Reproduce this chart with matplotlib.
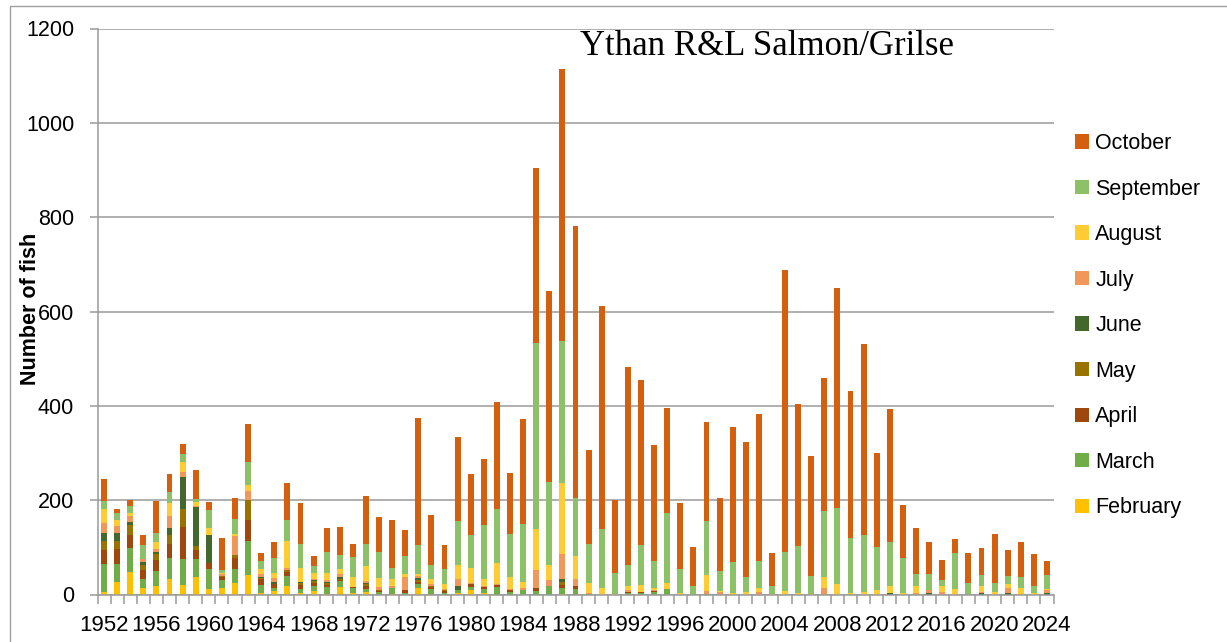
import numpy as np
import matplotlib.pyplot as plt
from matplotlib.patches import Rectangle, Patch

# Ythan R&L salmon/grilse catch by month, 1952-2024
years = list(range(1952, 2025))
months = ["February", "March", "April", "May", "June", "July", "August", "September", "October"]
colors = ["#FFC000", "#70AD47", "#9E480E", "#997300", "#43682B",
          "#F1975A", "#FFCD33", "#8CC168", "#D4600F"]

february = [6, 26, 47, 13, 17, 33, 21, 37, 11, 13, 24, 42, 4, 7, 18, 4, 8, 2, 16, 4, 5,
            0, 2, 0, 13, 0, 0, 4, 10, 4, 0, 0, 0, 0, 0, 2, 0, 0, 0, 0, 0, 0, 0, 0, 0,
            0, 0, 0, 0, 0, 0, 0, 0, 0, 0, 0, 0, 0, 0, 0, 0, 0, 0, 0, 0, 0, 0, 0, 0, 0, 0, 0, 0]
march = [59, 38, 52, 20, 33, 45, 54, 38, 43, 18, 30, 71, 16, 6, 21, 7, 11, 13, 12, 9, 6,
         6, 12, 4, 10, 11, 4, 6, 6, 8, 16, 6, 9, 7, 18, 12, 11, 2, 0, 0, 3, 4, 5, 11, 0,
         0, 2, 0, 0, 0, 0, 0, 0, 0, 0, 0, 0, 0, 0, 0, 0, 0, 0, 0, 0, 0, 0, 0, 0, 0, 0, 0, 0]
april = [30, 33, 28, 18, 23, 29, 69, 19, 12, 7, 23, 46, 12, 9, 8, 10, 6, 6, 2, 2, 7,
         2, 0, 5, 4, 4, 4, 0, 6, 3, 4, 3, 0, 6, 0, 7, 8, 0, 0, 0, 3, 2, 3, 0, 0,
         0, 0, 0, 0, 0, 0, 0, 0, 0, 0, 0, 0, 0, 0, 0, 0, 0, 0, 0, 0, 0, 0, 0, 0, 0, 0, 0, 0]
may = [19, 16, 21, 12, 13, 20, 37, 9, 1, 1, 6, 41, 4, 1, 4, 3, 4, 4, 3, 0, 4,
       1, 0, 0, 4, 3, 2, 0, 0, 0, 0, 0, 0, 0, 0, 5, 0, 0, 0, 0, 0, 0, 0, 0, 0,
       0, 0, 0, 0, 0, 0, 0, 0, 0, 0, 0, 0, 0, 0, 0, 0, 0, 0, 0, 0, 0, 0, 0, 0, 0, 0, 0, 0]
june = [17, 18, 6, 6, 4, 13, 69, 82, 60, 1, 1, 1, 2, 4, 1, 2, 2, 1, 4, 0, 2,
        1, 0, 0, 4, 0, 0, 7, 0, 0, 0, 0, 0, 0, 0, 7, 0, 0, 0, 0, 0, 0, 0, 0, 0,
        0, 0, 0, 0, 0, 0, 0, 0, 0, 0, 0, 0, 0, 0, 0, 3, 0, 0, 4, 0, 0, 0, 3, 0, 4, 0, 0, 4]
july = [21, 14, 13, 6, 7, 27, 9, 2, 0, 4, 39, 19, 6, 8, 5, 1, 2, 4, 7, 1, 4,
        5, 4, 28, 4, 4, 2, 16, 3, 3, 3, 2, 4, 40, 13, 52, 14, 1, 0, 0, 3, 0, 1, 0, 0,
        0, 6, 5, 0, 0, 5, 0, 0, 0, 0, 13, 0, 0, 0, 0, 0, 0, 3, 5, 6, 0, 0, 3, 0, 9, 0, 0, 5]
august = [29, 14, 5, 1, 15, 28, 21, 10, 13, 2, 5, 13, 11, 11, 57, 29, 12, 15, 11, 22, 33,
          20, 14, 6, 4, 11, 10, 30, 32, 14, 43, 26, 13, 85, 31, 152, 48, 22, 14, 1, 9, 15, 5, 13, 4,
          0, 33, 2, 3, 5, 9, 1, 7, 4, 1, 25, 23, 4, 6, 9, 16, 3, 15, 0, 11, 11, 0, 13, 5, 10, 14, 4, 2]
september = [17, 14, 15, 28, 19, 22, 17, 6, 39, 6, 33, 48, 15, 32, 43, 52, 15, 46, 28, 41, 47,
             55, 24, 38, 62, 29, 33, 92, 69, 115, 116, 91, 124, 395, 177, 300, 123, 82, 124, 45, 44, 85, 58, 149, 50,
             18, 114, 43, 65, 33, 58, 17, 84, 99, 38, 140, 161, 115, 121, 91, 92, 74, 25, 35, 14, 77, 24, 23, 20, 17, 24, 15, 31]
october = [47, 8, 13, 23, 67, 38, 23, 60, 18, 68, 43, 80, 19, 33, 79, 85, 21, 49, 60, 28, 100,
           74, 103, 55, 270, 107, 49, 179, 130, 140, 226, 129, 223, 371, 404, 578, 578, 200, 474, 155, 421, 349, 244, 223, 139,
           82, 210, 155, 287, 286, 310, 71, 597, 300, 255, 281, 466, 312, 405, 199, 282, 113, 99, 68, 43, 30, 64, 56, 104, 55, 74, 67, 30]

series = [february, march, april, may, june, july, august, september, october]

y_ticks = [0, 200, 400, 600, 800, 1000, 1200]
label_years = list(range(1952, 2025, 4))

W, H = 1227, 642
fig = plt.figure(figsize=(W / 100, H / 100), dpi=100)
ax = fig.add_axes([97.5 / W, 1 - 594.5 / H, 956 / W, 566 / H])

grid_c = "#9A9A9A"
x = np.arange(len(years))
bottom = np.zeros(len(years))
handles = []
for name, vals, c in zip(months, series, colors):
    vals = np.array(vals, dtype=float)
    ax.bar(x, vals, width=0.45, bottom=bottom, color=c, linewidth=0)
    bottom += vals
    handles.append(Patch(facecolor=c, label=name))

ax.set_xlim(-0.5, len(years) - 0.5)
ax.set_ylim(0, 1200)
ax.set_yticks(y_ticks)
ax.set_yticklabels([str(v) for v in y_ticks], fontsize=15.5, family="Liberation Sans")
ax.yaxis.grid(True, color=grid_c, linewidth=1.1)
ax.set_axisbelow(True)

ax.set_xticks([years.index(y) for y in label_years])
ax.set_xticklabels([str(y) for y in label_years], fontsize=16, family="Liberation Sans")
ax.set_xticks(np.arange(-0.5, len(years), 1), minor=True)
ax.tick_params(axis="x", which="major", length=0, pad=15)
ax.tick_params(axis="x", which="minor", length=6.5, width=1.1, color=grid_c)
ax.tick_params(axis="y", length=5.8, width=1.1, color=grid_c, pad=11)

for s in ["top", "right"]:
    ax.spines[s].set_visible(False)
for s in ["left", "bottom"]:
    ax.spines[s].set_color(grid_c)
    ax.spines[s].set_linewidth(1.1)

fig.text(30 / W, 1 - 309 / H, "Number of fish", rotation=90, ha="center", va="center",
         fontsize=15.5, fontweight="bold", family="Liberation Sans")
fig.text(580 / W, 1 - 55 / H, "Ythan R&L Salmon/Grilse", ha="left", va="baseline",
         fontsize=25, family="Liberation Serif")

fig.legend(handles=handles[::-1], loc="upper left", bbox_to_anchor=(1075 / W, 1 - 133 / H),
           frameon=False, borderpad=0, borderaxespad=0,
           prop={"family": "Liberation Sans", "size": 15.5},
           handlelength=0.65, handleheight=0.65, handletextpad=0.3, labelspacing=1.14)

# chart area border
fig.patches.append(Rectangle((10 / W, -0.1), 1.2, 1 - 6 / H + 0.1, transform=fig.transFigure,
                             fill=False, edgecolor="#A0A0A0", linewidth=1.0))

fig.savefig("out.png", dpi=100)
